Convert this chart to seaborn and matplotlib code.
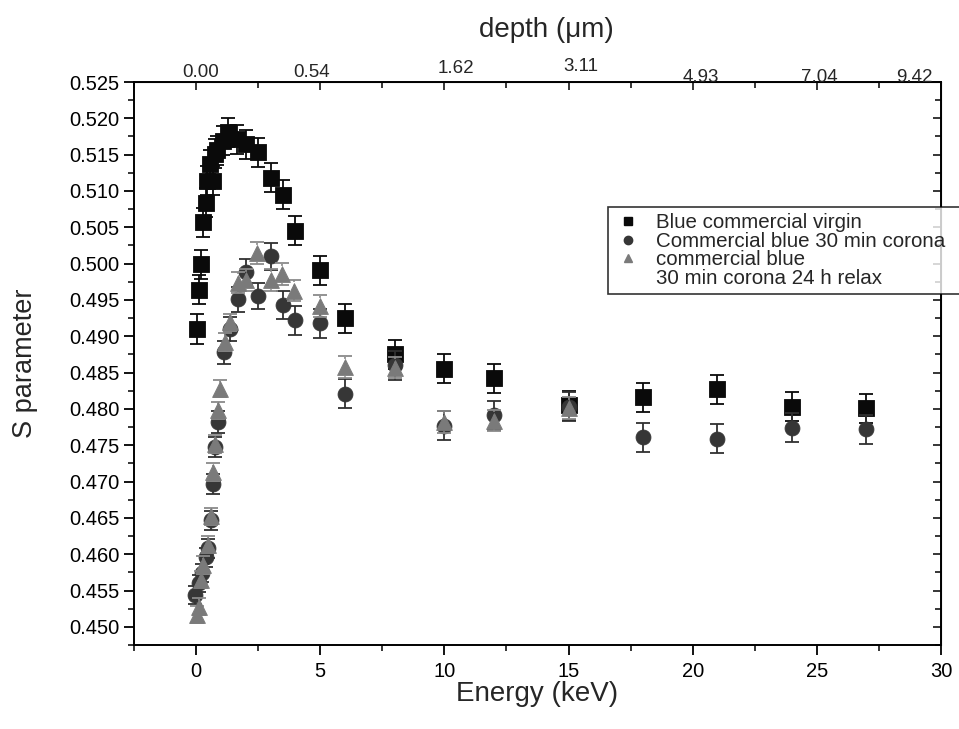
import matplotlib
matplotlib.use("Agg")
import matplotlib.pyplot as plt
import numpy as np
import pandas as pd
import seaborn as sns
from matplotlib.lines import Line2D
from matplotlib.ticker import MultipleLocator, FormatStrFormatter

# ---- S parameter vs positron implantation energy ----
energy_virgin = [0.05, 0.1, 0.2, 0.3, 0.4, 0.45, 0.55, 0.7, 0.75, 0.85, 1.1, 1.3,
                 1.65, 2.0, 2.5, 3.0, 3.5, 4.0, 5, 6, 8, 10, 12, 15, 18, 21, 24, 27]
s_virgin = [0.4910, 0.4964, 0.4999, 0.5057, 0.5084, 0.5114, 0.5137, 0.5114, 0.5151,
            0.5156, 0.5169, 0.5181, 0.5171, 0.5164, 0.5153, 0.5118, 0.5095, 0.5045,
            0.4991, 0.4925, 0.4875, 0.4855, 0.4842, 0.4805, 0.4816, 0.4827, 0.4803, 0.4801]
err_virgin = [0.0020] * len(s_virgin)

energy_corona = [-0.05, 0.1, 0.25, 0.4, 0.5, 0.62, 0.7, 0.76, 0.9, 1.14, 1.37, 1.68,
                 2.0, 2.5, 3.0, 3.5, 4.0, 5, 6, 8, 10, 12, 15, 18, 21, 24, 27]
s_corona = [0.4544, 0.4560, 0.4574, 0.4596, 0.4608, 0.4647, 0.4697, 0.4748, 0.4782,
            0.4878, 0.4910, 0.4951, 0.4988, 0.4955, 0.5010, 0.4943, 0.4922, 0.4918,
            0.4821, 0.4860, 0.4777, 0.4791, 0.4803, 0.4761, 0.4759, 0.4774, 0.4772]
err_corona = [0.0012, 0.0012, 0.0012, 0.0013, 0.0013, 0.0013, 0.0014, 0.0014, 0.0015,
              0.0016, 0.0016, 0.0017, 0.0018, 0.0018, 0.0019, 0.0019, 0.0020, 0.0020,
              0.0020, 0.0020, 0.0020, 0.0020, 0.0020, 0.0020, 0.0020, 0.0020, 0.0020]

energy_relax = [0.05, 0.1, 0.2, 0.3, 0.5, 0.62, 0.7, 0.76, 0.9, 0.97, 1.15, 1.35,
                1.7, 2.0, 2.45, 3.0, 3.45, 3.95, 5, 6, 8, 10, 12, 15]
s_relax = [0.4517, 0.4528, 0.4565, 0.4585, 0.4613, 0.4652, 0.4713, 0.4752, 0.4798,
           0.4828, 0.4892, 0.4919, 0.4974, 0.4977, 0.5015, 0.4978, 0.4986, 0.4963,
           0.4942, 0.4858, 0.4857, 0.4782, 0.4784, 0.4801]
err_relax = [0.0012] * 12 + [0.0015] * 12

# depth scale shown along the top axis
depth_tick_energy = [0, 5, 10, 15, 20, 25, 30]
depth_labels = ["0.00", "0.54", "1.62", "3.11", "4.93", "7.04", "9.42"]
depth_label_dx = [3, -6, 8, 9, 6, 2, -19]        # points
depth_label_dy = [7, 7, 10, 11.5, 3.5, 3.5, 3.5]  # points

labels = ["Blue commercial virgin",
          "Commercial blue 30 min corona",
          "commercial blue",
          "30 min corona 24 h relax"]

df = pd.concat([
    pd.DataFrame({"Energy": energy_virgin, "S": s_virgin, "err": err_virgin, "sample": "virgin"}),
    pd.DataFrame({"Energy": energy_corona, "S": s_corona, "err": err_corona, "sample": "corona"}),
    pd.DataFrame({"Energy": energy_relax, "S": s_relax, "err": err_relax, "sample": "relax"}),
], ignore_index=True)

sns.set_style("ticks")
plt.rcParams["font.family"] = ["Liberation Sans", "DejaVu Sans"]

fig = plt.figure(figsize=(9.59, 7.29), dpi=100)
ax = fig.add_axes([0.1397, 0.1152, 0.8415, 0.7723])

styles = {
    "virgin": dict(marker="s", color="#0a0a0a", s=125, ecolor="#0a0a0a", ls="-", z=3),
    "corona": dict(marker="o", color="#363636", s=115, ecolor="#303030", ls="-", z=4),
    "relax": dict(marker="^", color="#7a7a7a", s=130, ecolor="#8a8a8a", ls=":", z=5),
}

for name, st in styles.items():
    sub = df[df["sample"] == name]
    eb = ax.errorbar(sub["Energy"], sub["S"], yerr=sub["err"], fmt="none",
                     ecolor=st["ecolor"], elinewidth=1.3, capsize=5, capthick=1.3,
                     zorder=st["z"] - 0.5)
    if st["ls"] != "-":
        for coll in eb[2]:
            coll.set_linestyle(st["ls"])
    sns.scatterplot(data=sub, x="Energy", y="S", marker=st["marker"], s=st["s"],
                    color=st["color"], edgecolor=st["color"], linewidth=0.6,
                    ax=ax, zorder=st["z"], legend=False)

ax.set_xlim(-2.5, 30)
ax.set_ylim(0.4475, 0.525)
ax.xaxis.set_major_locator(MultipleLocator(5))
ax.xaxis.set_minor_locator(MultipleLocator(2.5))
ax.yaxis.set_major_locator(MultipleLocator(0.005))
ax.yaxis.set_minor_locator(MultipleLocator(0.0025))
ax.yaxis.set_major_formatter(FormatStrFormatter("%.3f"))

ax.tick_params(axis="both", which="major", direction="out", length=7, width=1.3,
               labelsize=14.5, colors="black")
ax.tick_params(axis="both", which="minor", direction="out", length=4, width=1.3)
ax.tick_params(axis="x", pad=5)

for sp in ax.spines.values():
    sp.set_linewidth(1.4)
    sp.set_color("black")
    sp.set_visible(True)

# top axis: inward ticks, depth labels
top = ax.secondary_xaxis("top")
top.xaxis.set_major_locator(MultipleLocator(5))
top.xaxis.set_minor_locator(MultipleLocator(2.5))
top.tick_params(which="major", direction="in", length=6, width=1.3, labeltop=False)
top.tick_params(which="minor", direction="in", length=4, width=1.3)
for e, lab, dx, dy in zip(depth_tick_energy, depth_labels, depth_label_dx, depth_label_dy):
    ax.annotate(lab, xy=(e, 1.0), xycoords=("data", "axes fraction"),
                xytext=(dx, dy), textcoords="offset points",
                ha="center", va="center", fontsize=13.5, annotation_clip=False)
fig.text(0.5695, 1 - 30 / 729, "depth (\u03bcm)", ha="center", va="center", fontsize=20)

# right axis: inward ticks, no labels
right = ax.secondary_yaxis("right")
right.yaxis.set_major_locator(MultipleLocator(0.005))
right.yaxis.set_minor_locator(MultipleLocator(0.0025))
right.tick_params(which="major", direction="in", length=6, width=1.3, labelright=False)
right.tick_params(which="minor", direction="in", length=4, width=1.3)

ax.set_xlabel("Energy (keV)", fontsize=20, labelpad=0)
ax.set_ylabel("S parameter", fontsize=19.5, labelpad=22)

handles = [
    Line2D([], [], marker="s", ls="none", color="#0a0a0a", markersize=6),
    Line2D([], [], marker="o", ls="none", color="#363636", markersize=6),
    Line2D([], [], marker="^", ls="none", color="#7a7a7a", markersize=6),
    Line2D([], [], ls="none"),
]
# legend box runs on past the right edge of the figure
leg = fig.legend(handles, labels, loc="upper left", mode="expand",
                 bbox_to_anchor=(0.634, 0.716, 0.40, 0.0),
                 bbox_transform=fig.transFigure, fontsize=14.8, frameon=True,
                 fancybox=False, borderpad=0.3, borderaxespad=0, labelspacing=-0.02,
                 handlelength=1.3, handletextpad=0.75)
leg.get_frame().set_edgecolor("black")
leg.get_frame().set_linewidth(1.2)

fig.savefig("out.png", dpi=100)
